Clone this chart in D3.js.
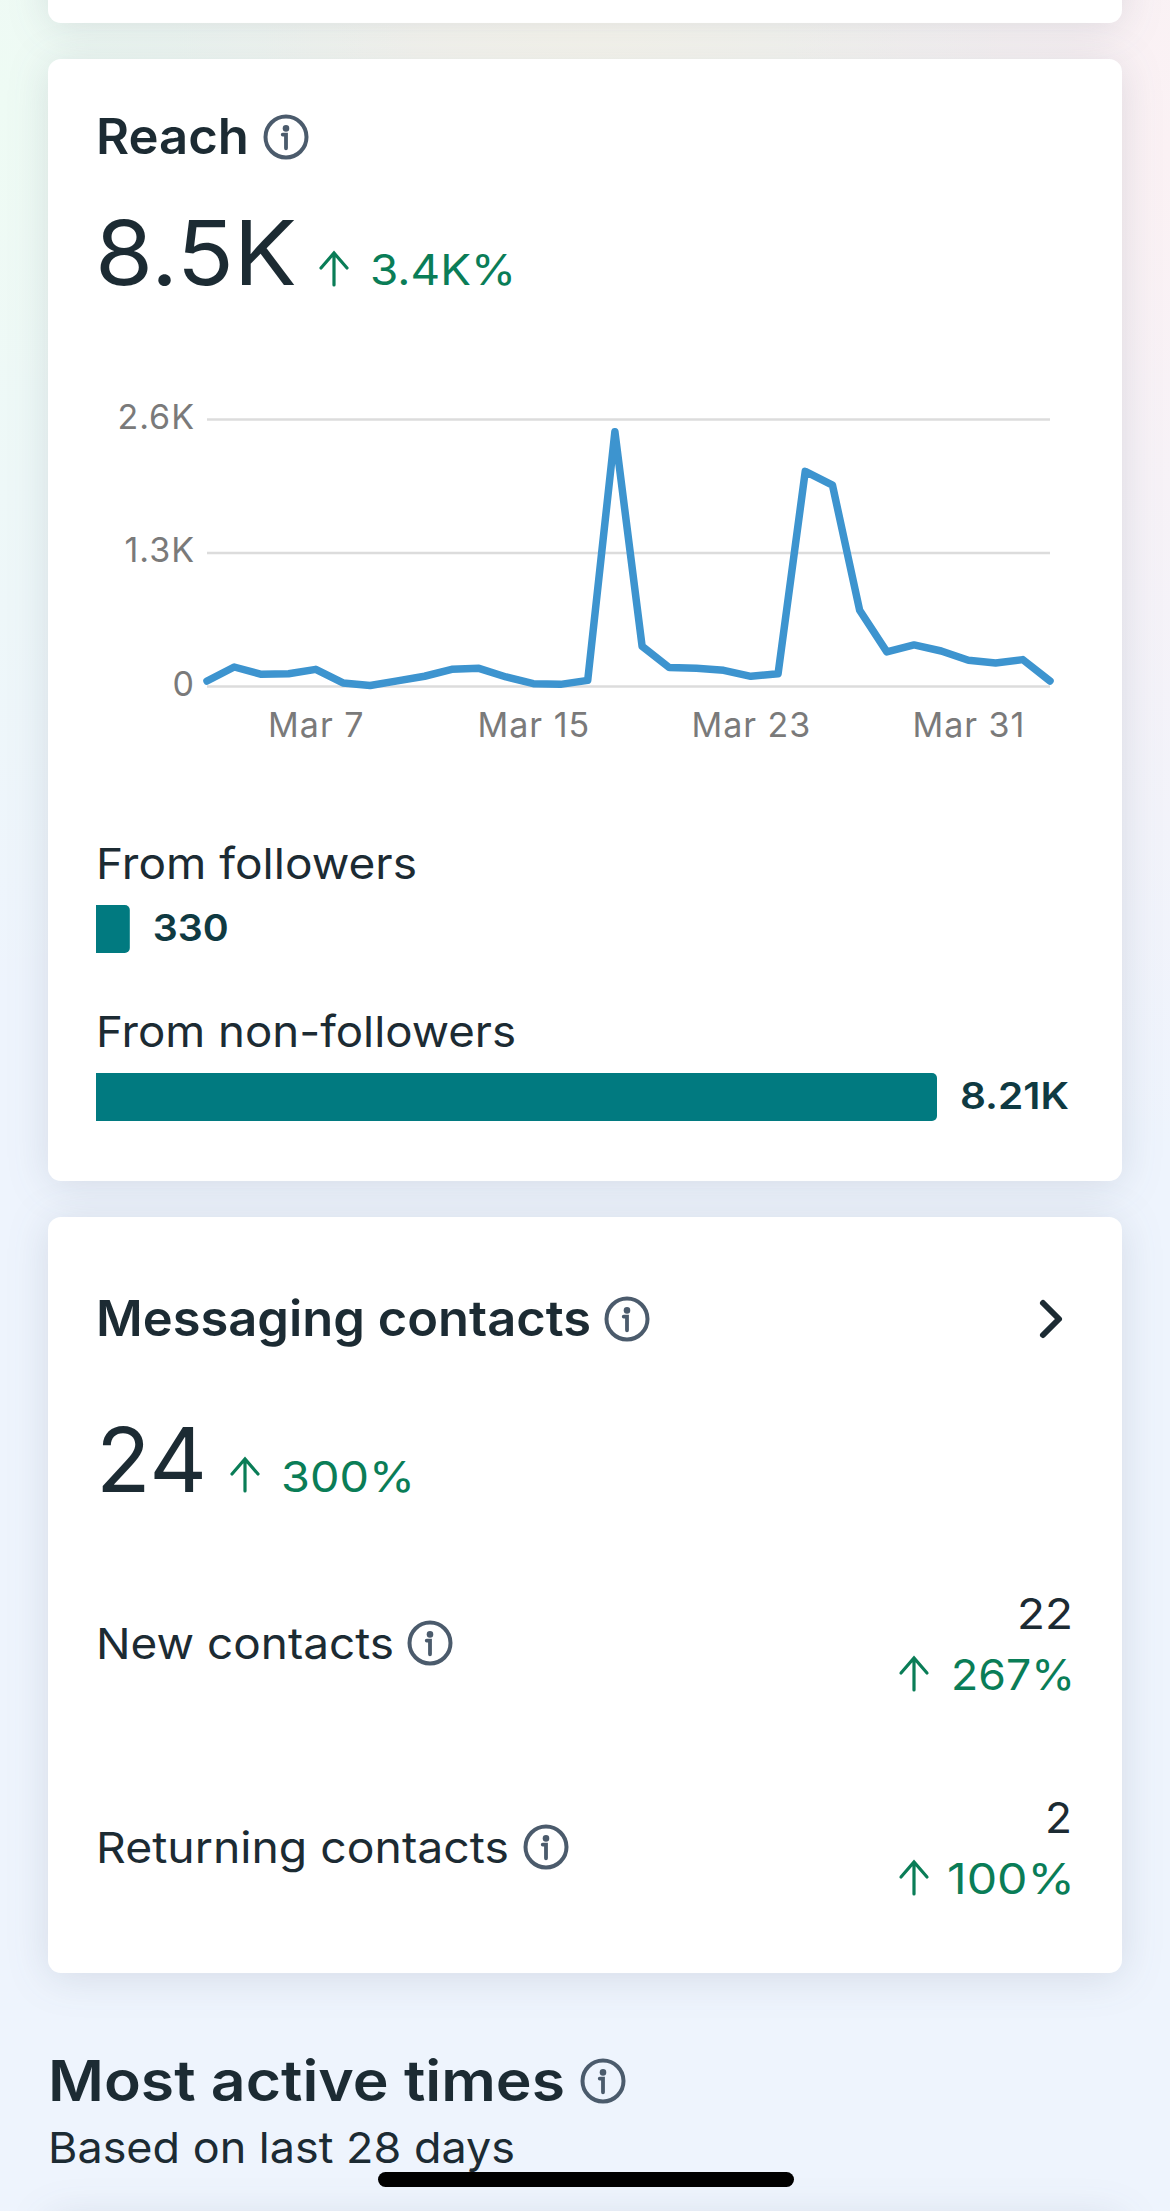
<!DOCTYPE html>
<html>
<head>
<meta charset="utf-8">
<script src="https://cdn.jsdelivr.net/npm/d3@7"></script>
<style>
  html, body { margin: 0; padding: 0; }
  body {
    width: 1170px; height: 2211px; overflow: hidden;
    background:
      radial-gradient(ellipse 420px 900px at 0px 100px, #eefbf4 0%, rgba(238,251,244,0) 100%),
      radial-gradient(ellipse 400px 1000px at 1170px 150px, #fbf1f4 0%, rgba(251,241,244,0) 100%),
      radial-gradient(ellipse 900px 500px at 585px 0px, #faf8ef 0%, rgba(250,248,239,0) 100%),
      #eef4fd;
  }
  svg { display: block; font-family: Inter, sans-serif; }
  .axis path { display: none; }
  .axis text { fill: #7a7a7a; font-family: Inter, sans-serif; font-size: 34px; letter-spacing: 1px; }
  .card { fill: #fff; filter: drop-shadow(0 4px 20px rgba(60, 70, 90, 0.14)); }
</style>
</head>
<body>
<svg id="chart" width="1170" height="2211"></svg>
<script>
let dates = ['03-03','03-04','03-05','03-06','03-07','03-08','03-09','03-10','03-11','03-12','03-13',
             '03-14','03-15','03-16','03-17','03-18','03-19','03-20','03-21','03-22','03-23','03-24',
             '03-25','03-26','03-27','03-28','03-29','03-30','03-31','04-01','04-02','04-03']
let reach = [49,185,114,120,162,30,5,50,95,162,172,88,23,16,55,2476,387,179,172,153,94,120,
             2090,1956,738,332,400,341,250,224,257,49]
let yTicks = [0, 1300, 2600]
let yTickLabels = ['0', '1.3K', '2.6K']
let xTicks = ['03-07', '03-15', '03-23', '03-31']
let xTickLabels = ['Mar 7', 'Mar 15', 'Mar 23', 'Mar 31']

let sourceLabels = ['From followers', 'From non-followers']
let sourceValues = [330, 8210]
let sourceValueLabels = ['330', '8.21K']

let contactLabels = ['New contacts', 'Returning contacts']
let contactValues = ['22', '2']
let contactChanges = ['267%', '100%']

let dark = '#1c2b33'
let green = '#0a7d57'
let teal = '#017a80'
let iconGrey = '#4b5b6c'

let parseDay = d3.utcParse('%Y-%m-%d')
let day = d => parseDay('2024-' + d)

let svg = d3.select('#chart')

// cards
let cards = [[48, -60, 1074, 83], [48, 59, 1074, 1122], [48, 1217, 1074, 756], [48, 2215, 1074, 100]]
svg.selectAll('rect.card')
  .data(cards)
  .enter()
  .append('rect')
    .attr('class', 'card')
    .attr('x', d => d[0])
    .attr('y', d => d[1])
    .attr('width', d => d[2])
    .attr('height', d => d[3])
    .attr('rx', 13)

// the original face runs wider than Inter, so each label is stretched to its measured width
function label(text, x, y, size, weight, color, width) {
  return svg.append('text')
    .attr('x', x)
    .attr('y', y)
    .attr('font-size', size)
    .attr('font-weight', weight)
    .attr('fill', color)
    .attr('textLength', width)
    .attr('lengthAdjust', 'spacingAndGlyphs')
    .text(text)
}

function infoIcon(cx, cy, r) {
  let g = svg.append('g').attr('transform', `translate(${cx}, ${cy})`)
  g.append('circle').attr('r', r).attr('fill', 'none').attr('stroke', iconGrey).attr('stroke-width', 4)
  g.append('circle').attr('cy', -r * 0.42).attr('r', r * 0.16).attr('fill', iconGrey)
  g.append('path')
    .attr('d', `M${-r * 0.16},${-r * 0.12} H0 V${r * 0.55}`)
    .attr('fill', 'none').attr('stroke', iconGrey).attr('stroke-width', 3.8).attr('stroke-linecap', 'round')
}

function upArrow(x, top, bottom) {
  svg.append('path')
    .attr('d', `M${x},${bottom} V${top} M${x - 13},${top + 15} L${x},${top} L${x + 13},${top + 15}`)
    .attr('fill', 'none').attr('stroke', green).attr('stroke-width', 3.2).attr('stroke-linecap', 'round')
}

// reach header
label('Reach', 96, 154, 49, 600, dark, 153)
infoIcon(286, 137, 20.5)
label('8.5K', 95, 285, 89, 400, dark, 202)
upArrow(334, 253, 285)
label('3.4K%', 370, 285, 43, 400, green, 146)

// line chart
let xScale = d3.scaleUtc()
               .domain(d3.extent(dates, day))
               .range([207, 1050])

let yScale = d3.scaleLinear()
               .domain([0, 2600])
               .range([686, 419])

let yAxis = d3.axisLeft(yScale)
              .tickValues(yTicks)
              .tickFormat((d, i) => yTickLabels[i])
              .tickSize(-843)
              .tickPadding(12)

svg.append('g')
    .attr('class', 'axis')
    .attr('transform', 'translate(207, 0)')
    .call(yAxis)
    .call(g => g.selectAll('.tick line').attr('stroke', '#dcdcdc').attr('stroke-width', 2.5))
    .call(g => g.selectAll('.tick text').attr('dy', '0.27em'))

let xAxis = d3.axisBottom(xScale)
              .tickValues(xTicks.map(day))
              .tickFormat((d, i) => xTickLabels[i])
              .tickSize(0)
              .tickPadding(0)

svg.append('g')
    .attr('class', 'axis')
    .attr('transform', 'translate(0, 713)')
    .call(xAxis)

let line = d3.line()
             .x((d, i) => xScale(day(dates[i])))
             .y(d => yScale(d))

svg.append('path')
    .datum(reach)
    .attr('d', line)
    .attr('fill', 'none')
    .attr('stroke', '#3d94cf')
    .attr('stroke-width', 7.5)
    .attr('stroke-linejoin', 'round')
    .attr('stroke-linecap', 'round')

// follower bars
let barScale = d3.scaleLinear()
                 .domain([0, 8210])
                 .range([0, 841])

let barTops = [905, 1073]
let sourceNameWidths = [321, 420]
let sourceValueWidths = [76, 109]

sourceLabels.forEach((name, i) => {
  label(name, 96, barTops[i] - 26, 43, 400, dark, sourceNameWidths[i])
  let w = barScale(sourceValues[i])
  svg.append('path')
    .attr('d', `M96,${barTops[i]} H${96 + w - 5} a5,5 0 0 1 5,5 V${barTops[i] + 43} a5,5 0 0 1 -5,5 H96 Z`)
    .attr('fill', teal)
  label(sourceValueLabels[i], 96 + w + 23, barTops[i] + 36, 37, 600, '#0f3a42', sourceValueWidths[i])
})

// messaging contacts
label('Messaging contacts', 96, 1336, 49, 600, dark, 495)
infoIcon(627, 1319, 20.5)
svg.append('path')
    .attr('d', 'M1043,1303 L1059,1319 L1043,1335')
    .attr('fill', 'none').attr('stroke', dark).attr('stroke-width', 6)
    .attr('stroke-linecap', 'round').attr('stroke-linejoin', 'round')
label('24', 96, 1492, 89, 400, dark, 111)
upArrow(245, 1459, 1491)
label('300%', 281, 1492, 43, 400, green, 134)

let contactNameWidths = [298, 413]
let contactIconX = [430, 546]
let contactValueX = [1017, 1045]
let contactValueWidths = [56, 27]
let contactChangeX = [951, 947]
let contactChangeWidths = [124, 128]

contactLabels.forEach((name, i) => {
  let top = i * 204
  label(name, 96, 1659 + top, 43, 400, dark, contactNameWidths[i])
  infoIcon(contactIconX[i], 1643 + top, 20.5)
  label(contactValues[i], contactValueX[i], 1629 + top, 42, 400, dark, contactValueWidths[i])
  label(contactChanges[i], contactChangeX[i], 1690 + top, 43, 400, green, contactChangeWidths[i])
  upArrow(914, 1658 + top, 1690 + top)
})

// next section
label('Most active times', 48, 2101, 56, 600, dark, 517)
infoIcon(603, 2081, 20.5)
label('Based on last 28 days', 48, 2163, 43, 400, dark, 467)

// home indicator
svg.append('rect')
    .attr('x', 378)
    .attr('y', 2172)
    .attr('width', 416)
    .attr('height', 15)
    .attr('rx', 7.5)
    .attr('fill', '#000')
</script>
</body>
</html>
